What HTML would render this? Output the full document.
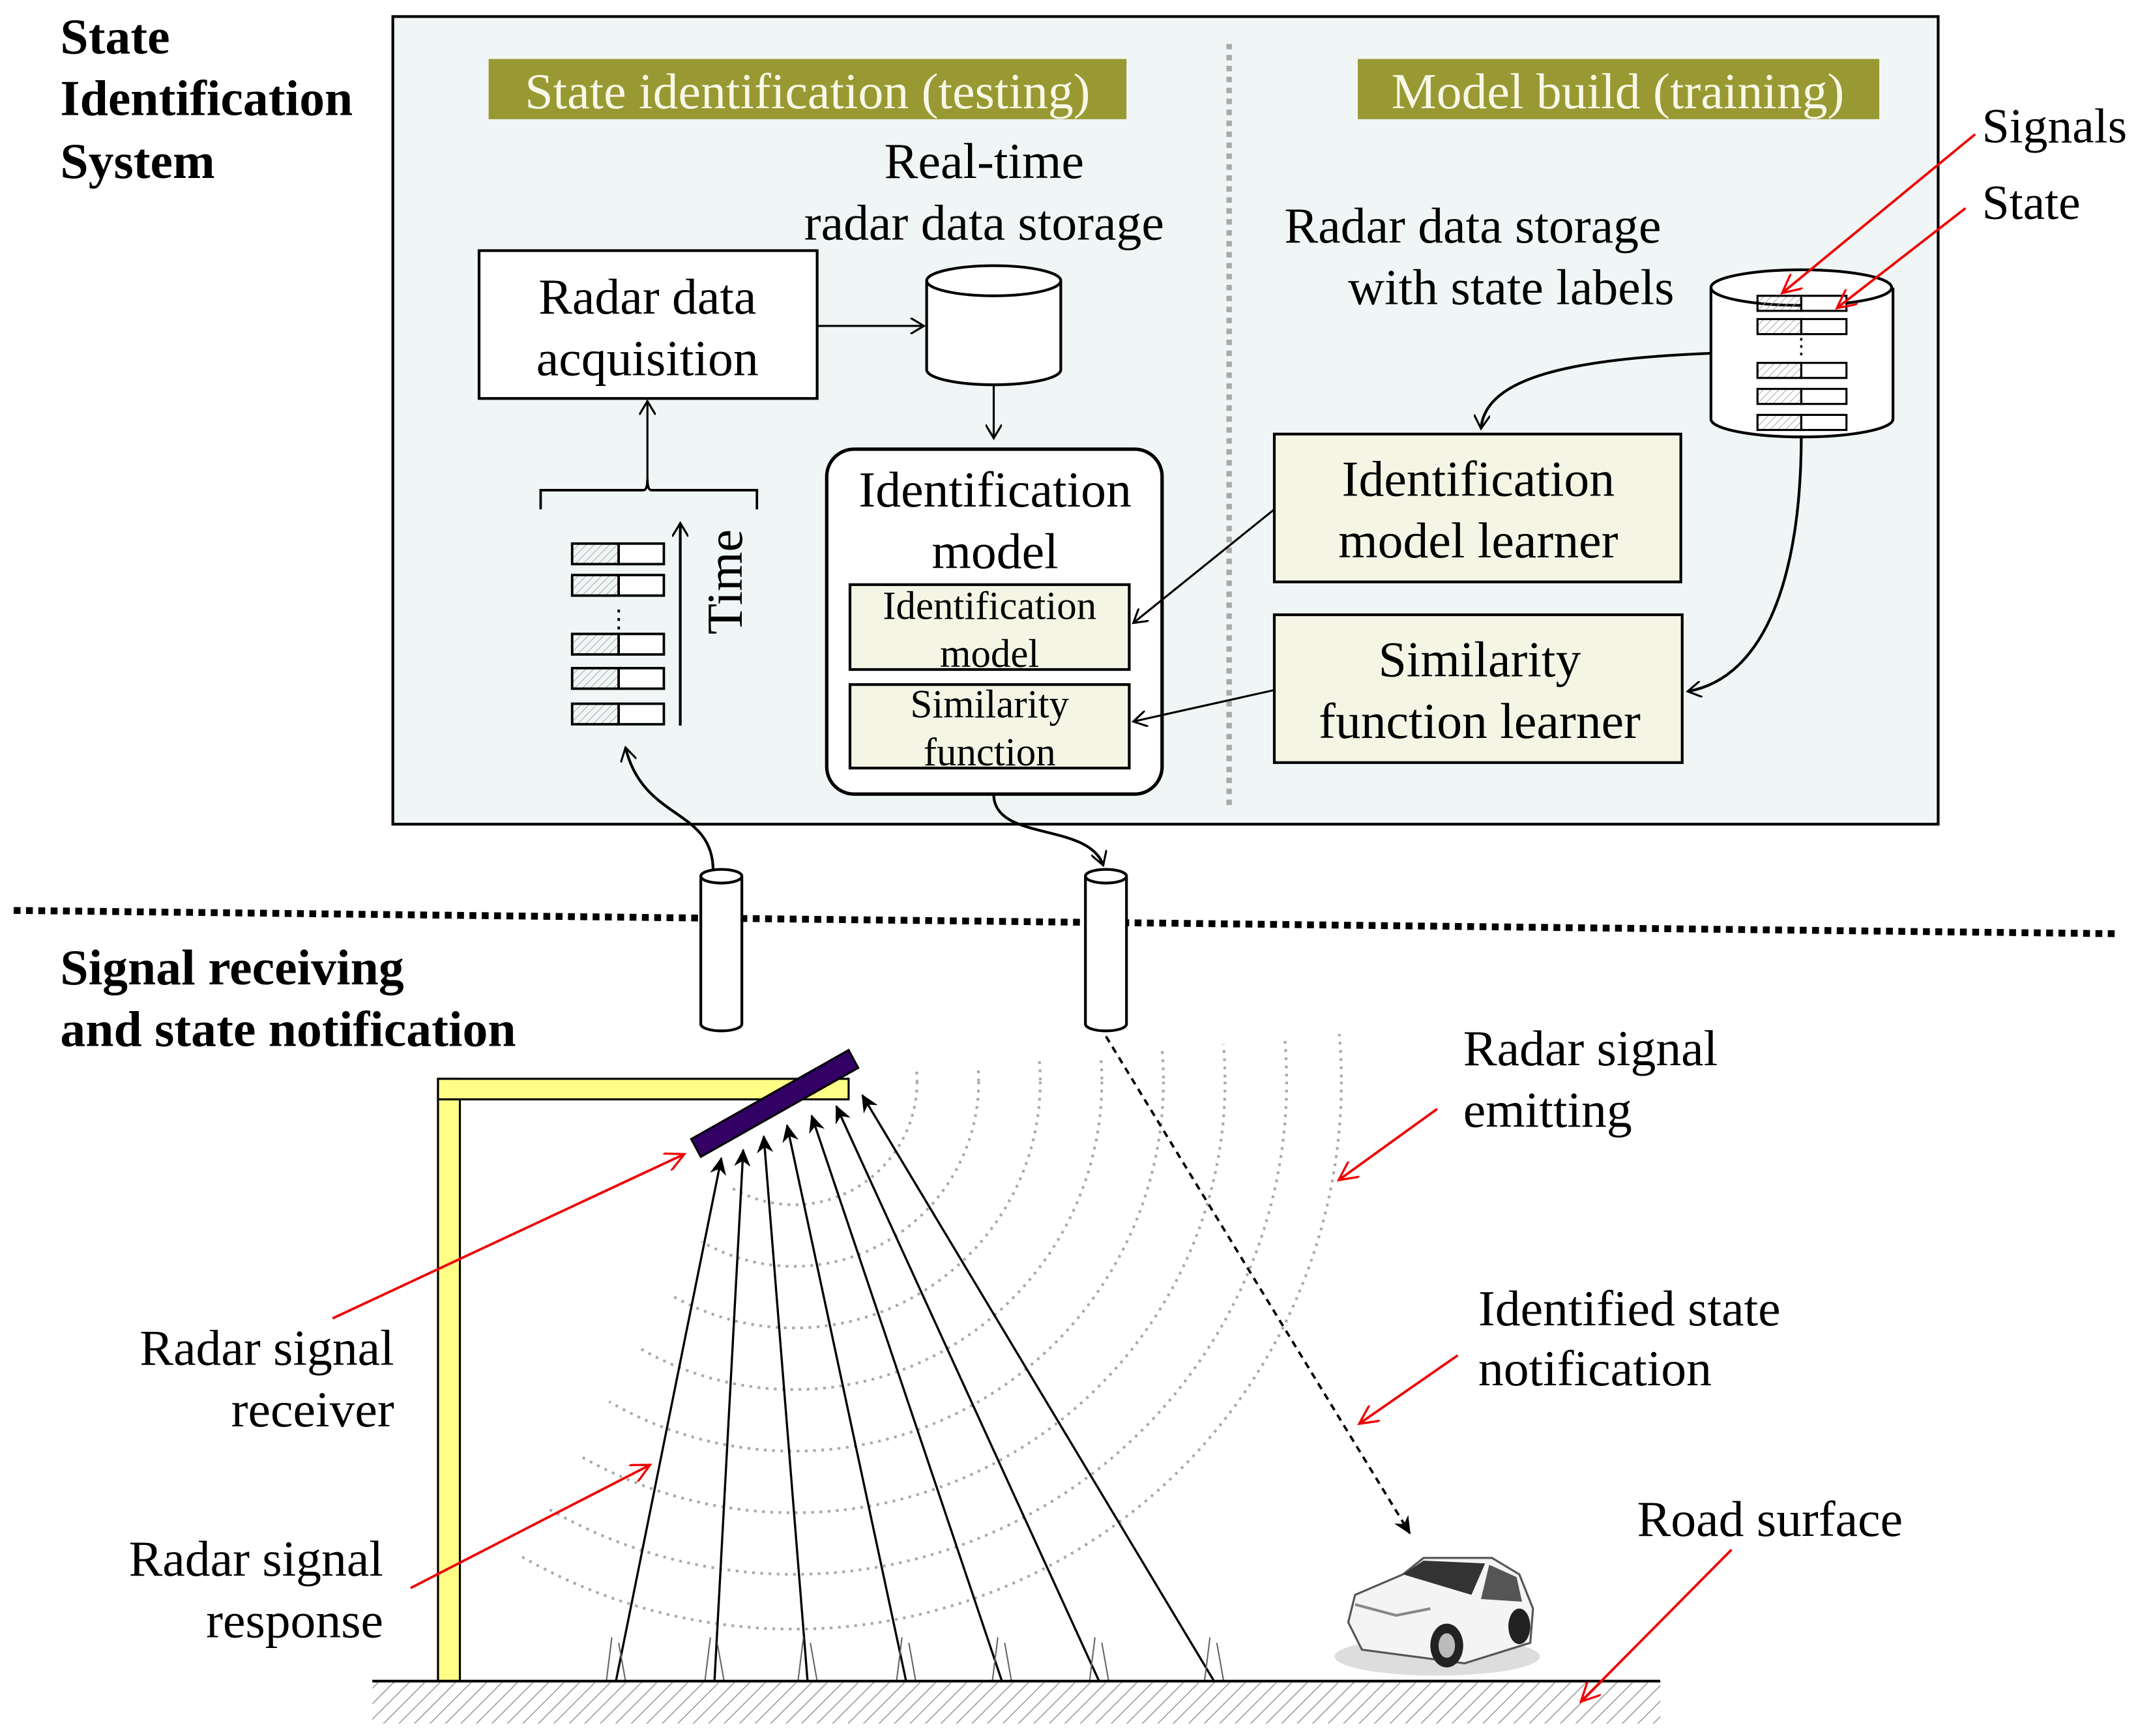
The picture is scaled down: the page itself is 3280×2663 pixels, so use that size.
<!DOCTYPE html>
<html><head><meta charset="utf-8"><style>
html,body{margin:0;padding:0;background:#fff;}
svg{display:block;}
text{font-family:"Liberation Serif",serif;}
</style></head><body>
<svg width="3280" height="2663" viewBox="0 0 1562 1268" xmlns="http://www.w3.org/2000/svg">
<defs>
<marker id="a" markerWidth="12" markerHeight="12" refX="10" refY="6" orient="auto" markerUnits="userSpaceOnUse"><path d="M0,0 L10,6 L0,12" fill="none" stroke="#000" stroke-width="1.5"/></marker>
<marker id="af" markerWidth="14" markerHeight="14" refX="12" refY="7" orient="auto" markerUnits="userSpaceOnUse"><path d="M0,1 L13,7 L0,13 L4,7Z" fill="#000"/></marker>
<marker id="r" markerWidth="16" markerHeight="14" refX="14" refY="7" orient="auto" markerUnits="userSpaceOnUse"><path d="M0,0 L14,7 L0,14" fill="none" stroke="#e00" stroke-width="1.6"/></marker>
<pattern id="h" width="8" height="8" patternUnits="userSpaceOnUse" patternTransform="rotate(45)"><line x1="0" y1="0" x2="0" y2="8" stroke="#999" stroke-width="1.5"/></pattern>
<pattern id="h2" width="4" height="4" patternUnits="userSpaceOnUse" patternTransform="rotate(45)"><line x1="0" y1="0" x2="0" y2="4" stroke="#aaa" stroke-width="1"/></pattern>
<clipPath id="wedge"><polygon points="580,790 1576,703 1576,1700 80,1656"/></clipPath>
</defs>

<rect x="287" y="12" width="1129" height="590" fill="#f0f5f5" stroke="#000" stroke-width="2"/>
<line x1="898" y1="32" x2="898" y2="590" stroke="#aaa" stroke-width="4" stroke-dasharray="4 4"/>

<rect x="357" y="43" width="466" height="44" fill="#999933"/>
<text x="590" y="79" font-size="37" fill="#f8f8e8" text-anchor="middle">State identification (testing)</text>
<rect x="992" y="43" width="381" height="44" fill="#999933"/>
<text x="1182" y="79" font-size="37" fill="#f8f8e8" text-anchor="middle">Model build (training)</text>

<g font-size="37" text-anchor="middle">
<text x="719" y="130">Real-time</text>
<text x="719" y="175">radar data storage</text>
<text x="1076" y="177">Radar data storage</text>
<text x="1104" y="222">with state labels</text>
</g>

<rect x="350" y="183" width="247" height="108" fill="#fff" stroke="#000" stroke-width="2"/>
<text x="473" y="229" font-size="37" text-anchor="middle">Radar data</text>
<text x="473" y="274" font-size="37" text-anchor="middle">acquisition</text>
<line x1="597" y1="238" x2="675" y2="238" stroke="#000" stroke-width="1.5" marker-end="url(#a)"/>

<path d="M677,205 L677,270 A49,11 0 0 0 775,270 L775,205" fill="#fff" stroke="#000" stroke-width="2"/>
<ellipse cx="726" cy="205" rx="49" ry="11" fill="#fff" stroke="#000" stroke-width="2"/>
<line x1="726" y1="281" x2="726" y2="320" stroke="#000" stroke-width="1.5" marker-end="url(#a)"/>

<rect x="604" y="328" width="245" height="252" rx="20" fill="#fff" stroke="#000" stroke-width="2.5"/>
<text x="727" y="370" font-size="37" text-anchor="middle">Identification</text>
<text x="727" y="415" font-size="37" text-anchor="middle">model</text>
<rect x="621" y="427" width="204" height="62" fill="#f5f5e6" stroke="#000" stroke-width="2"/>
<text x="723" y="452" font-size="29" text-anchor="middle">Identification</text>
<text x="723" y="487" font-size="29" text-anchor="middle">model</text>
<rect x="621" y="500" width="204" height="61" fill="#f5f5e6" stroke="#000" stroke-width="2"/>
<text x="723" y="524" font-size="29" text-anchor="middle">Similarity</text>
<text x="723" y="559" font-size="29" text-anchor="middle">function</text>

<rect x="931" y="317" width="297" height="108" fill="#f5f5e6" stroke="#000" stroke-width="2"/>
<text x="1080" y="362" font-size="37" text-anchor="middle">Identification</text>
<text x="1080" y="407" font-size="37" text-anchor="middle">model learner</text>
<rect x="931" y="449" width="298" height="108" fill="#f5f5e6" stroke="#000" stroke-width="2"/>
<text x="1081" y="494" font-size="37" text-anchor="middle">Similarity</text>
<text x="1081" y="539" font-size="37" text-anchor="middle">function learner</text>

<path d="M1250,210 L1250,306 A66,13 0 0 0 1383,306 L1383,210" fill="#fff" stroke="#000" stroke-width="2"/>
<ellipse cx="1316" cy="210" rx="66" ry="13" fill="#fff" stroke="#000" stroke-width="2"/>
<g stroke="#000" stroke-width="1.5">
<rect x="1284" y="216" width="32" height="11" fill="url(#h2)"/><rect x="1316" y="216" width="33" height="11" fill="#fff"/>
<rect x="1284" y="233" width="32" height="11" fill="url(#h2)"/><rect x="1316" y="233" width="33" height="11" fill="#fff"/>
<rect x="1284" y="265" width="32" height="11" fill="url(#h2)"/><rect x="1316" y="265" width="33" height="11" fill="#fff"/>
<rect x="1284" y="284" width="32" height="11" fill="url(#h2)"/><rect x="1316" y="284" width="33" height="11" fill="#fff"/>
<rect x="1284" y="303" width="32" height="11" fill="url(#h2)"/><rect x="1316" y="303" width="33" height="11" fill="#fff"/>
</g>
<text x="1316" y="258" font-size="16" text-anchor="middle">⋮</text>

<path d="M1250,258 C1150,262 1085,275 1082,313" fill="none" stroke="#000" stroke-width="2" marker-end="url(#a)"/>
<path d="M1316,318 C1316,420 1290,495 1233,505" fill="none" stroke="#000" stroke-width="2" marker-end="url(#a)"/>
<line x1="931" y1="372" x2="828" y2="455" stroke="#000" stroke-width="1.5" marker-end="url(#a)"/>
<line x1="931" y1="504" x2="828" y2="527" stroke="#000" stroke-width="1.5" marker-end="url(#a)"/>

<text x="1448" y="104" font-size="36">Signals</text>
<text x="1448" y="160" font-size="36">State</text>
<line x1="1443" y1="98" x2="1302" y2="214" stroke="#e00" stroke-width="1.8" marker-end="url(#r)"/>
<line x1="1436" y1="152" x2="1342" y2="225" stroke="#e00" stroke-width="1.8" marker-end="url(#r)"/>

<path d="M395,372 L395,358 L470,358 Q473,358 473,350 Q473,358 476,358 L553,358 L553,372" fill="none" stroke="#000" stroke-width="1.8"/>
<line x1="473" y1="350" x2="473" y2="293" stroke="#000" stroke-width="1.5" marker-end="url(#a)"/>
<g stroke="#000" stroke-width="1.8">
<rect x="418" y="397" width="34" height="15" fill="url(#h2)"/><rect x="452" y="397" width="33" height="15" fill="#fff"/>
<rect x="418" y="420" width="34" height="15" fill="url(#h2)"/><rect x="452" y="420" width="33" height="15" fill="#fff"/>
<rect x="418" y="463" width="34" height="15" fill="url(#h2)"/><rect x="452" y="463" width="33" height="15" fill="#fff"/>
<rect x="418" y="488" width="34" height="15" fill="url(#h2)"/><rect x="452" y="488" width="33" height="15" fill="#fff"/>
<rect x="418" y="514" width="34" height="15" fill="url(#h2)"/><rect x="452" y="514" width="33" height="15" fill="#fff"/>
</g>
<text x="452" y="458" font-size="18" text-anchor="middle">⋮</text>
<line x1="497" y1="530" x2="497" y2="382" stroke="#000" stroke-width="2" marker-end="url(#a)"/>
<text transform="translate(542,425) rotate(-90)" font-size="37" text-anchor="middle">Time</text>

<path d="M521,636 C521,590 470,600 457,546" fill="none" stroke="#000" stroke-width="2" marker-end="url(#a)"/>
<path d="M726,580 C726,615 795,600 806,632" fill="none" stroke="#000" stroke-width="2" marker-end="url(#a)"/>

<g font-size="37" font-weight="bold">
<text x="44" y="39">State</text>
<text x="44" y="84">Identification</text>
<text x="44" y="130">System</text>
<text x="44" y="719">Signal receiving</text>
<text x="44" y="764">and state notification</text>
</g>

<line x1="10" y1="665" x2="1545" y2="682" stroke="#000" stroke-width="5" stroke-dasharray="5 4"/>

<g fill="#fff" stroke="#000" stroke-width="2">
<path d="M512,640 L512,748 A15,5 0 0 0 542,748 L542,640"/>
<ellipse cx="527" cy="640" rx="15" ry="5"/>
<path d="M793,640 L793,748 A15,5 0 0 0 823,748 L823,640"/>
<ellipse cx="808" cy="640" rx="15" ry="5"/>
</g>

<g clip-path="url(#wedge)" fill="none" stroke="#aaa" stroke-width="2" stroke-dasharray="2 4">
<circle cx="580" cy="790" r="90"/><circle cx="580" cy="790" r="135"/><circle cx="580" cy="790" r="180"/>
<circle cx="580" cy="790" r="225"/><circle cx="580" cy="790" r="270"/><circle cx="580" cy="790" r="315"/>
<circle cx="580" cy="790" r="360"/><circle cx="580" cy="790" r="400"/>
</g>

<rect x="320" y="788" width="16" height="440" fill="#ffff88" stroke="#000" stroke-width="1.5"/>
<rect x="320" y="788" width="300" height="15" fill="#ffff88" stroke="#000" stroke-width="1.5"/>
<polygon points="505,832 620,767 627,780 512,845" fill="#330066" stroke="#000" stroke-width="1.5"/>

<g stroke="#000" stroke-width="1.6" marker-end="url(#af)">
<line x1="450" y1="1228" x2="527" y2="846"/>
<line x1="522" y1="1228" x2="543" y2="840"/>
<line x1="590" y1="1228" x2="558" y2="830"/>
<line x1="662" y1="1228" x2="575" y2="822"/>
<line x1="732" y1="1228" x2="593" y2="815"/>
<line x1="803" y1="1228" x2="611" y2="808"/>
<line x1="887" y1="1228" x2="630" y2="800"/>
</g>
<g stroke="#666" stroke-width="1" fill="none">
<path d="M443,1228 L447,1196 M457,1228 L452,1200"/><path d="M515,1228 L519,1196 M529,1228 L524,1200"/>
<path d="M583,1228 L587,1196 M597,1228 L592,1200"/><path d="M655,1228 L659,1196 M669,1228 L664,1200"/>
<path d="M725,1228 L729,1196 M739,1228 L734,1200"/><path d="M796,1228 L800,1196 M810,1228 L805,1200"/>
<path d="M880,1228 L884,1196 M894,1228 L889,1200"/>
</g>

<rect x="272" y="1229" width="941" height="30" fill="url(#h)"/>
<line x1="272" y1="1228" x2="1213" y2="1228" stroke="#000" stroke-width="2"/>

<line x1="808" y1="757" x2="1030" y2="1120" stroke="#000" stroke-width="1.8" stroke-dasharray="5 4" marker-end="url(#af)"/>

<ellipse cx="1050" cy="1210" rx="75" ry="14" fill="#ddd"/>
<path d="M985,1185 L990,1165 L1025,1150 L1040,1138 L1090,1138 L1110,1150 L1120,1175 L1118,1200 L1070,1215 L995,1205 Z" fill="#f4f4f4" stroke="#555" stroke-width="1.5"/>
<path d="M1025,1150 L1040,1140 L1085,1142 L1075,1165 Z" fill="#333"/>
<path d="M1088,1143 L1108,1152 L1112,1170 L1082,1168 Z" fill="#555"/>
<ellipse cx="1057" cy="1202" rx="12" ry="16" fill="#222"/><ellipse cx="1057" cy="1202" rx="6" ry="9" fill="#bbb"/>
<ellipse cx="1110" cy="1188" rx="8" ry="13" fill="#222"/>
<path d="M990,1172 L1020,1180 L1045,1175" fill="none" stroke="#888" stroke-width="2"/>

<g font-size="37">
<text x="1069" y="778">Radar signal</text>
<text x="1069" y="823">emitting</text>
<text x="1080" y="968">Identified state</text>
<text x="1080" y="1012">notification</text>
<text x="1196" y="1122">Road surface</text>
<text x="288" y="997" text-anchor="end">Radar signal</text>
<text x="288" y="1042" text-anchor="end">receiver</text>
<text x="280" y="1151" text-anchor="end">Radar signal</text>
<text x="280" y="1196" text-anchor="end">response</text>
</g>
<g stroke="#e00" stroke-width="1.8" fill="none" marker-end="url(#r)">
<line x1="1050" y1="810" x2="978" y2="862"/>
<line x1="1065" y1="990" x2="993" y2="1040"/>
<line x1="1265" y1="1132" x2="1155" y2="1243"/>
<line x1="243" y1="963" x2="500" y2="843"/>
<line x1="300" y1="1160" x2="475" y2="1070"/>
</g>
</svg>
</body></html>
